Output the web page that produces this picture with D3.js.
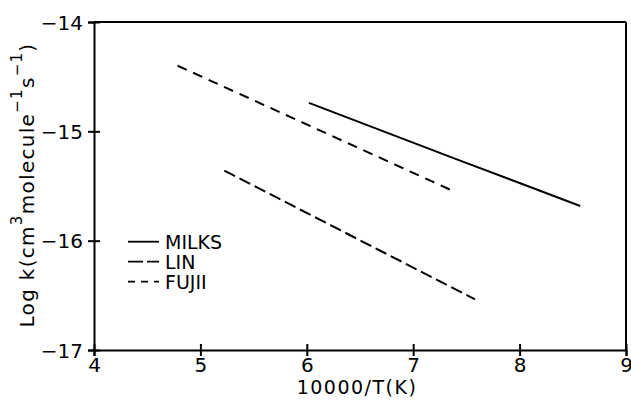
<!DOCTYPE html>
<html>
<head>
<meta charset="utf-8">
<script src="https://cdn.jsdelivr.net/npm/d3@7/dist/d3.min.js"></script>
<style>
  html, body { margin: 0; padding: 0; background: #fff; }
  svg { display: block; }
  text { font-family: "DejaVu Sans", sans-serif; fill: #000; }
</style>
</head>
<body>
<svg id="chart" width="631" height="405"></svg>
<script>
// ---- data ----
const xTicks = [4, 5, 6, 7, 8, 9];
const yTicks = [-17, -16, -15, -14];
const seriesNames = ["MILKS", "LIN", "FUJII"];
const milksX = [6.02, 7.41, 8.57];
const milksY = [-14.74, -15.256, -15.683];
const linX = [5.225, 7.581];
const linY = [-15.36, -16.536];
const fujiiX = [4.786, 7.396];
const fujiiY = [-14.40, -15.555];

const svg = d3.select("#chart");
const W = 631, H = 405;
const m = { left: 94, right: 5, top: 22, bottom: 55 };

const x = d3.scaleLinear().domain([4, 9]).range([m.left, W - m.right]);
const y = d3.scaleLinear().domain([-17, -14]).range([H - m.bottom, m.top]);

const fmt = d => (d < 0 ? "\u2212" + Math.abs(d) : String(d));

// frame top and right
svg.append("line").attr("x1", x(4)).attr("x2", x(9)).attr("y1", y(-14)).attr("y2", y(-14))
  .attr("stroke", "#000").attr("stroke-width", 2);
svg.append("line").attr("x1", x(9)).attr("x2", x(9)).attr("y1", y(-14)).attr("y2", y(-17))
  .attr("stroke", "#000").attr("stroke-width", 2);

// x axis
const gx = svg.append("g").attr("transform", `translate(0,${y(-17)})`)
  .call(d3.axisBottom(x).tickValues(xTicks).tickSizeOuter(0).tickSize(6).tickFormat(fmt));
gx.select(".domain").attr("stroke-width", 2);
gx.selectAll(".tick line").attr("y1", -6).attr("y2", 6).attr("stroke-width", 2);
gx.selectAll(".tick text").attr("y", 22).attr("dy", 0).attr("font-size", 20)
  .attr("font-family", "DejaVu Sans");

// y axis
const gy = svg.append("g").attr("transform", `translate(${x(4)},0)`)
  .call(d3.axisLeft(y).tickValues(yTicks).tickSizeOuter(0).tickSize(6).tickFormat(fmt));
gy.select(".domain").attr("stroke-width", 2);
gy.selectAll(".tick line").attr("x1", -6).attr("x2", 6).attr("stroke-width", 2);
gy.selectAll(".tick text").attr("x", -11).attr("dy", "0.36em").attr("font-size", 20)
  .attr("font-family", "DejaVu Sans");

// axis titles
svg.append("text").attr("x", 357).attr("y", 394).attr("text-anchor", "middle")
  .attr("font-size", 19).attr("letter-spacing", 1.5).text("10000/T(K)");

const yl = svg.append("text").attr("transform", "translate(34,185) rotate(-90)")
  .attr("text-anchor", "middle").attr("font-size", 20).attr("letter-spacing", 1.3);
yl.append("tspan").text("Log k(cm");
yl.append("tspan").attr("font-size", 15).attr("dy", -12).text("3");
yl.append("tspan").attr("dy", 12).text("molecule");
yl.append("tspan").attr("font-size", 15).attr("dy", -12).text("\u22121");
yl.append("tspan").attr("dy", 12).text("s");
yl.append("tspan").attr("font-size", 15).attr("dy", -12).text("\u22121");
yl.append("tspan").attr("dy", 12).text(")");

// series
const series = [
  { name: seriesNames[0], xs: milksX, ys: milksY, dash: null, legendDash: null },
  { name: seriesNames[1], xs: linX, ys: linY, dash: "12,5", legendDash: "15,4" },
  { name: seriesNames[2], xs: fujiiX, ys: fujiiY, dash: "10,7", legendDash: "7,6" }
];
const line = d3.line().x(d => x(d[0])).y(d => y(d[1]));
series.forEach(s => {
  const pts = s.xs.map((v, i) => [v, s.ys[i]]);
  svg.append("path").datum(pts).attr("d", line).attr("fill", "none")
    .attr("stroke", "#000").attr("stroke-width", 2)
    .attr("stroke-dasharray", s.dash);
});

// legend
const lg = svg.append("g");
series.forEach((s, i) => {
  const ly = 241.7 + i * 20;
  lg.append("line").attr("x1", 128).attr("x2", 159).attr("y1", ly).attr("y2", ly)
    .attr("stroke", "#000").attr("stroke-width", 1.8).attr("stroke-dasharray", s.legendDash);
  lg.append("text").attr("x", 165).attr("y", ly + 7).attr("font-size", 19).text(s.name);
});
</script>
</body>
</html>
